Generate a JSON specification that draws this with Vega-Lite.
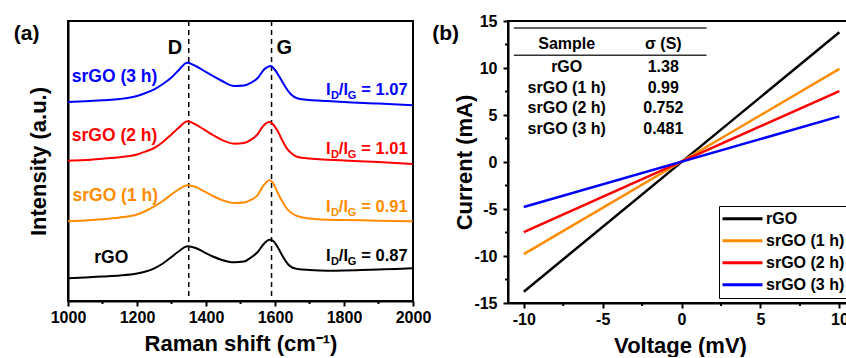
{
  "$schema": "https://vega.github.io/schema/vega-lite/v6.json",
  "padding": {"left": 12, "top": 12, "right": 0, "bottom": 0},
  "spacing": -1,
  "config": {
    "font": "Liberation Sans",
    "view": {"stroke": "black", "strokeWidth": 2},
    "axis": {"grid": false, "labelFlush": false, "domainColor": "black", "domainWidth": 2, "tickColor": "black", "tickWidth": 2, "tickSize": 5, "labelFont": "Liberation Sans", "labelFontWeight": "bold", "labelFontSize": 16, "labelColor": "black", "titleFont": "Liberation Sans", "titleFontWeight": "bold", "titleFontSize": 22, "titleColor": "black", "labelPadding": 3, "labelExpr": "'' + datum.value"}
  },
  "resolve": {"scale": {"color": "independent"}},
  "hconcat": [
    {
      "width": 345,
      "height": 280,
      "layer": [
        {
          "data": {"values": [{"x": 1350}, {"x": 1590}]},
          "mark": {"type": "rule", "strokeDash": [5, 4], "strokeWidth": 1.5, "color": "black"},
          "encoding": {
            "x": {"field": "x", "type": "quantitative", "scale": {"domain": [1000, 2000], "nice": false}, "axis": {"values": [1000, 1200, 1400, 1600, 1800, 2000], "title": "Raman shift (cm⁻¹)", "titlePadding": 8}}
          }
        },
        {
          "data": {"name": "raman", "values": [
            {"sample": "rGO", "x": 1000, "y": 22.7}, {"sample": "rGO", "x": 1050, "y": 23.5}, {"sample": "rGO", "x": 1100, "y": 24.5}, {"sample": "rGO", "x": 1150, "y": 25.5}, {"sample": "rGO", "x": 1200, "y": 27.5}, {"sample": "rGO", "x": 1225, "y": 29.5}, {"sample": "rGO", "x": 1250, "y": 32.7}, {"sample": "rGO", "x": 1275, "y": 37.5}, {"sample": "rGO", "x": 1299, "y": 43.7}, {"sample": "rGO", "x": 1320, "y": 49.5}, {"sample": "rGO", "x": 1347, "y": 54.7}, {"sample": "rGO", "x": 1370, "y": 53}, {"sample": "rGO", "x": 1395, "y": 48.7}, {"sample": "rGO", "x": 1420, "y": 44.5}, {"sample": "rGO", "x": 1444, "y": 41.3}, {"sample": "rGO", "x": 1482, "y": 38.7}, {"sample": "rGO", "x": 1510, "y": 39.5}, {"sample": "rGO", "x": 1531, "y": 43.7}, {"sample": "rGO", "x": 1550, "y": 49}, {"sample": "rGO", "x": 1565, "y": 56}, {"sample": "rGO", "x": 1584, "y": 61.3}, {"sample": "rGO", "x": 1595, "y": 60}, {"sample": "rGO", "x": 1608, "y": 53.7}, {"sample": "rGO", "x": 1622, "y": 45}, {"sample": "rGO", "x": 1637, "y": 37}, {"sample": "rGO", "x": 1650, "y": 33.5}, {"sample": "rGO", "x": 1666, "y": 32}, {"sample": "rGO", "x": 1700, "y": 31}, {"sample": "rGO", "x": 1753, "y": 30.3}, {"sample": "rGO", "x": 1800, "y": 30.5}, {"sample": "rGO", "x": 1850, "y": 31}, {"sample": "rGO", "x": 1900, "y": 31.5}, {"sample": "rGO", "x": 1950, "y": 32}, {"sample": "rGO", "x": 1999, "y": 32.7},
            {"sample": "srGO (1 h)", "x": 1000, "y": 79.7}, {"sample": "srGO (1 h)", "x": 1050, "y": 80.5}, {"sample": "srGO (1 h)", "x": 1100, "y": 81.7}, {"sample": "srGO (1 h)", "x": 1150, "y": 83.5}, {"sample": "srGO (1 h)", "x": 1200, "y": 86.5}, {"sample": "srGO (1 h)", "x": 1225, "y": 90}, {"sample": "srGO (1 h)", "x": 1250, "y": 94.7}, {"sample": "srGO (1 h)", "x": 1275, "y": 100}, {"sample": "srGO (1 h)", "x": 1299, "y": 106.3}, {"sample": "srGO (1 h)", "x": 1320, "y": 111.5}, {"sample": "srGO (1 h)", "x": 1347, "y": 115.7}, {"sample": "srGO (1 h)", "x": 1370, "y": 114}, {"sample": "srGO (1 h)", "x": 1395, "y": 109.7}, {"sample": "srGO (1 h)", "x": 1420, "y": 105}, {"sample": "srGO (1 h)", "x": 1444, "y": 101.3}, {"sample": "srGO (1 h)", "x": 1482, "y": 98}, {"sample": "srGO (1 h)", "x": 1510, "y": 98.5}, {"sample": "srGO (1 h)", "x": 1531, "y": 101.3}, {"sample": "srGO (1 h)", "x": 1550, "y": 106}, {"sample": "srGO (1 h)", "x": 1565, "y": 114.7}, {"sample": "srGO (1 h)", "x": 1584, "y": 120.7}, {"sample": "srGO (1 h)", "x": 1596, "y": 117}, {"sample": "srGO (1 h)", "x": 1608, "y": 108}, {"sample": "srGO (1 h)", "x": 1622, "y": 99}, {"sample": "srGO (1 h)", "x": 1637, "y": 91.3}, {"sample": "srGO (1 h)", "x": 1650, "y": 87.5}, {"sample": "srGO (1 h)", "x": 1666, "y": 84.7}, {"sample": "srGO (1 h)", "x": 1700, "y": 82.5}, {"sample": "srGO (1 h)", "x": 1753, "y": 81.3}, {"sample": "srGO (1 h)", "x": 1800, "y": 81}, {"sample": "srGO (1 h)", "x": 1900, "y": 80.3}, {"sample": "srGO (1 h)", "x": 1999, "y": 79.7},
            {"sample": "srGO (2 h)", "x": 1000, "y": 140.3}, {"sample": "srGO (2 h)", "x": 1050, "y": 141}, {"sample": "srGO (2 h)", "x": 1100, "y": 142.3}, {"sample": "srGO (2 h)", "x": 1150, "y": 143.8}, {"sample": "srGO (2 h)", "x": 1200, "y": 146.5}, {"sample": "srGO (2 h)", "x": 1225, "y": 149.5}, {"sample": "srGO (2 h)", "x": 1250, "y": 153}, {"sample": "srGO (2 h)", "x": 1275, "y": 159}, {"sample": "srGO (2 h)", "x": 1299, "y": 166.3}, {"sample": "srGO (2 h)", "x": 1320, "y": 173}, {"sample": "srGO (2 h)", "x": 1347, "y": 179.7}, {"sample": "srGO (2 h)", "x": 1370, "y": 176.5}, {"sample": "srGO (2 h)", "x": 1395, "y": 171.3}, {"sample": "srGO (2 h)", "x": 1420, "y": 166}, {"sample": "srGO (2 h)", "x": 1444, "y": 161.3}, {"sample": "srGO (2 h)", "x": 1482, "y": 157.3}, {"sample": "srGO (2 h)", "x": 1510, "y": 158}, {"sample": "srGO (2 h)", "x": 1531, "y": 161.3}, {"sample": "srGO (2 h)", "x": 1550, "y": 167}, {"sample": "srGO (2 h)", "x": 1565, "y": 174.7}, {"sample": "srGO (2 h)", "x": 1584, "y": 179}, {"sample": "srGO (2 h)", "x": 1596, "y": 176}, {"sample": "srGO (2 h)", "x": 1608, "y": 169.7}, {"sample": "srGO (2 h)", "x": 1622, "y": 160}, {"sample": "srGO (2 h)", "x": 1637, "y": 151.3}, {"sample": "srGO (2 h)", "x": 1650, "y": 147}, {"sample": "srGO (2 h)", "x": 1666, "y": 144}, {"sample": "srGO (2 h)", "x": 1700, "y": 142.5}, {"sample": "srGO (2 h)", "x": 1753, "y": 141.3}, {"sample": "srGO (2 h)", "x": 1800, "y": 140.5}, {"sample": "srGO (2 h)", "x": 1900, "y": 139}, {"sample": "srGO (2 h)", "x": 1999, "y": 137},
            {"sample": "srGO (3 h)", "x": 1000, "y": 199}, {"sample": "srGO (3 h)", "x": 1050, "y": 199.8}, {"sample": "srGO (3 h)", "x": 1100, "y": 200.8}, {"sample": "srGO (3 h)", "x": 1150, "y": 202}, {"sample": "srGO (3 h)", "x": 1200, "y": 205}, {"sample": "srGO (3 h)", "x": 1225, "y": 208}, {"sample": "srGO (3 h)", "x": 1250, "y": 211.7}, {"sample": "srGO (3 h)", "x": 1275, "y": 217}, {"sample": "srGO (3 h)", "x": 1299, "y": 223.3}, {"sample": "srGO (3 h)", "x": 1320, "y": 230.5}, {"sample": "srGO (3 h)", "x": 1345, "y": 238.3}, {"sample": "srGO (3 h)", "x": 1370, "y": 235}, {"sample": "srGO (3 h)", "x": 1395, "y": 230}, {"sample": "srGO (3 h)", "x": 1420, "y": 225}, {"sample": "srGO (3 h)", "x": 1444, "y": 220.5}, {"sample": "srGO (3 h)", "x": 1482, "y": 215}, {"sample": "srGO (3 h)", "x": 1510, "y": 215.5}, {"sample": "srGO (3 h)", "x": 1531, "y": 218.3}, {"sample": "srGO (3 h)", "x": 1550, "y": 223}, {"sample": "srGO (3 h)", "x": 1569, "y": 231.7}, {"sample": "srGO (3 h)", "x": 1588, "y": 235}, {"sample": "srGO (3 h)", "x": 1600, "y": 231}, {"sample": "srGO (3 h)", "x": 1617, "y": 221.7}, {"sample": "srGO (3 h)", "x": 1632, "y": 213}, {"sample": "srGO (3 h)", "x": 1646, "y": 206.7}, {"sample": "srGO (3 h)", "x": 1666, "y": 202.5}, {"sample": "srGO (3 h)", "x": 1700, "y": 201}, {"sample": "srGO (3 h)", "x": 1753, "y": 200}, {"sample": "srGO (3 h)", "x": 1800, "y": 199}, {"sample": "srGO (3 h)", "x": 1900, "y": 197.5}, {"sample": "srGO (3 h)", "x": 1999, "y": 195.7}
          ]},
          "mark": {"type": "line", "strokeWidth": 2, "interpolate": "monotone"},
          "encoding": {
            "x": {"field": "x", "type": "quantitative"},
            "y": {"field": "y", "type": "quantitative", "scale": {"domain": [0, 280], "nice": false}, "axis": {"title": "Intensity (a.u.)", "labels": false, "ticks": false, "titlePadding": 18}},
            "color": {"field": "sample", "type": "nominal", "scale": {"domain": ["rGO", "srGO (1 h)", "srGO (2 h)", "srGO (3 h)"], "range": ["#000000", "#FF8C00", "#FF0000", "#0000FF"]}, "legend": null}
          }
        },
        {
          "data": {"values": [{"x": 1100}, {"x": 1300}, {"x": 1500}, {"x": 1700}, {"x": 1900}]},
          "mark": {"type": "rule", "strokeWidth": 2, "color": "black"},
          "encoding": {"x": {"field": "x", "type": "quantitative"}, "y": {"datum": 0}, "y2": {"datum": -3}}
        },
        {
          "data": {"values": [
            {"sample": "srGO (3 h)", "x": 1011, "y": 219.3, "text": "srGO (3 h)"},
            {"sample": "srGO (2 h)", "x": 1011, "y": 160, "text": "srGO (2 h)"},
            {"sample": "srGO (1 h)", "x": 1013, "y": 100, "text": "srGO (1 h)"},
            {"sample": "rGO", "x": 1076, "y": 38.3, "text": "rGO"}
          ]},
          "mark": {"type": "text", "align": "left", "baseline": "alphabetic", "fontSize": 17.5, "fontWeight": "bold"},
          "encoding": {"x": {"field": "x", "type": "quantitative"}, "y": {"field": "y", "type": "quantitative"}, "text": {"field": "text"}, "color": {"field": "sample", "type": "nominal"}}
        },
        {
          "data": {"values": [
            {"sample": "srGO (3 h)", "x": 1748, "y": 206, "text": "I"}, {"sample": "srGO (3 h)", "x": 1785, "y": 206, "text": "/I"}, {"sample": "srGO (3 h)", "x": 1850, "y": 206, "text": "= 1.07"},
            {"sample": "srGO (2 h)", "x": 1748, "y": 146.7, "text": "I"}, {"sample": "srGO (2 h)", "x": 1785, "y": 146.7, "text": "/I"}, {"sample": "srGO (2 h)", "x": 1850, "y": 146.7, "text": "= 1.01"},
            {"sample": "srGO (1 h)", "x": 1748, "y": 89.3, "text": "I"}, {"sample": "srGO (1 h)", "x": 1785, "y": 89.3, "text": "/I"}, {"sample": "srGO (1 h)", "x": 1850, "y": 89.3, "text": "= 0.91"},
            {"sample": "rGO", "x": 1748, "y": 40, "text": "I"}, {"sample": "rGO", "x": 1785, "y": 40, "text": "/I"}, {"sample": "rGO", "x": 1850, "y": 40, "text": "= 0.87"}
          ]},
          "mark": {"type": "text", "align": "left", "baseline": "alphabetic", "fontSize": 16.5, "fontWeight": "bold"},
          "encoding": {"x": {"field": "x", "type": "quantitative"}, "y": {"field": "y", "type": "quantitative"}, "text": {"field": "text"}, "color": {"field": "sample", "type": "nominal"}}
        },
        {
          "data": {"values": [
            {"sample": "srGO (3 h)", "x": 1762, "y": 206, "text": "D"}, {"sample": "srGO (3 h)", "x": 1811, "y": 206, "text": "G"},
            {"sample": "srGO (2 h)", "x": 1762, "y": 146.7, "text": "D"}, {"sample": "srGO (2 h)", "x": 1811, "y": 146.7, "text": "G"},
            {"sample": "srGO (1 h)", "x": 1762, "y": 89.3, "text": "D"}, {"sample": "srGO (1 h)", "x": 1811, "y": 89.3, "text": "G"},
            {"sample": "rGO", "x": 1762, "y": 40, "text": "D"}, {"sample": "rGO", "x": 1811, "y": 40, "text": "G"}
          ]},
          "mark": {"type": "text", "align": "left", "baseline": "alphabetic", "fontSize": 11, "fontWeight": "bold", "dy": 4},
          "encoding": {"x": {"field": "x", "type": "quantitative"}, "y": {"field": "y", "type": "quantitative"}, "text": {"field": "text"}, "color": {"field": "sample", "type": "nominal"}}
        },
        {
          "data": {"values": [{"x": 1310, "y": 246.7, "text": "D"}, {"x": 1627, "y": 246.7, "text": "G"}]},
          "mark": {"type": "text", "align": "center", "baseline": "alphabetic", "fontSize": 20, "fontWeight": "bold", "color": "black"},
          "encoding": {"x": {"field": "x", "type": "quantitative"}, "y": {"field": "y", "type": "quantitative"}, "text": {"field": "text"}}
        },
        {
          "data": {"values": [{"x": 843, "y": 260.7, "text": "(a)"}]},
          "mark": {"type": "text", "align": "left", "baseline": "alphabetic", "fontSize": 21, "fontWeight": "bold", "color": "black"},
          "encoding": {"x": {"field": "x", "type": "quantitative"}, "y": {"field": "y", "type": "quantitative"}, "text": {"field": "text"}}
        }
      ]
    },
    {
      "width": 344,
      "height": 282,
      "layer": [
        {
          "data": {"values": [
            {"sample": "rGO", "v": -10, "i": -13.8}, {"sample": "rGO", "v": 10, "i": 13.8},
            {"sample": "srGO (1 h)", "v": -10, "i": -9.8}, {"sample": "srGO (1 h)", "v": 10, "i": 9.9},
            {"sample": "srGO (2 h)", "v": -10, "i": -7.45}, {"sample": "srGO (2 h)", "v": 10, "i": 7.55},
            {"sample": "srGO (3 h)", "v": -10, "i": -4.79}, {"sample": "srGO (3 h)", "v": 10, "i": 4.85}
          ]},
          "mark": {"type": "line", "strokeWidth": 2.5},
          "encoding": {
            "x": {"field": "v", "type": "quantitative", "scale": {"domain": [-11, 10.8], "nice": false}, "axis": {"values": [-10, -5, 0, 5, 10], "title": "Voltage (mV)", "titlePadding": 8}},
            "y": {"field": "i", "type": "quantitative", "scale": {"domain": [-15, 15], "nice": false}, "axis": {"values": [-15, -10, -5, 0, 5, 10, 15], "title": "Current (mA)", "titlePadding": -3, "labelPadding": 6}},
            "color": {"field": "sample", "type": "nominal", "scale": {"domain": ["rGO", "srGO (1 h)", "srGO (2 h)", "srGO (3 h)"], "range": ["#000000", "#FF8C00", "#FF0000", "#0000FF"]},
              "legend": {"orient": "bottom-right", "offset": 5, "title": null, "symbolType": "stroke", "symbolSize": 1600, "symbolStrokeWidth": 3, "clipHeight": 21.5, "labelFont": "Liberation Sans", "labelFontSize": 16, "labelFontWeight": "bold", "labelColor": "black", "labelOffset": 2, "strokeColor": "black", "fillColor": "white", "padding": 2, "rowPadding": 0}}
          }
        },
        {
          "data": {"values": [{"v": -7.5}, {"v": -2.5}, {"v": 2.5}, {"v": 7.5}]},
          "mark": {"type": "rule", "strokeWidth": 2, "color": "black"},
          "encoding": {"x": {"field": "v", "type": "quantitative"}, "y": {"datum": -15}, "y2": {"datum": -15.32}}
        },
        {
          "data": {"values": [{"i": -12.5}, {"i": -7.5}, {"i": -2.5}, {"i": 2.5}, {"i": 7.5}, {"i": 12.5}]},
          "mark": {"type": "rule", "strokeWidth": 2, "color": "black"},
          "encoding": {"y": {"field": "i", "type": "quantitative"}, "x": {"datum": -11}, "x2": {"datum": -11.19}}
        },
        {
          "data": {"values": [{"v": -10.63, "v2": 1.58, "i": 14.26}, {"v": -10.63, "v2": 1.58, "i": 11.35}]},
          "mark": {"type": "rule", "strokeWidth": 1.5, "color": "#333333"},
          "encoding": {"x": {"field": "v", "type": "quantitative"}, "x2": {"field": "v2"}, "y": {"field": "i", "type": "quantitative"}}
        },
        {
          "data": {"values": [
            {"v": -7.28, "i": 12.59, "text": "Sample"}, {"v": -1.16, "i": 12.59, "text": "σ (S)"},
            {"v": -7.28, "i": 10.14, "text": "rGO"}, {"v": -1.16, "i": 10.14, "text": "1.38"},
            {"v": -7.28, "i": 7.9, "text": "srGO (1 h)"}, {"v": -1.16, "i": 7.9, "text": "0.99"},
            {"v": -7.28, "i": 5.71, "text": "srGO (2 h)"}, {"v": -1.16, "i": 5.71, "text": "0.752"},
            {"v": -7.28, "i": 3.48, "text": "srGO (3 h)"}, {"v": -1.16, "i": 3.48, "text": "0.481"}
          ]},
          "mark": {"type": "text", "align": "center", "baseline": "middle", "fontSize": 16, "fontWeight": "bold", "color": "black"},
          "encoding": {"x": {"field": "v", "type": "quantitative"}, "y": {"field": "i", "type": "quantitative"}, "text": {"field": "text"}}
        },
        {
          "data": {"values": [{"v": -15.8, "i": 12.98, "text": "(b)"}]},
          "mark": {"type": "text", "align": "left", "baseline": "alphabetic", "fontSize": 21, "fontWeight": "bold", "color": "black"},
          "encoding": {"x": {"field": "v", "type": "quantitative"}, "y": {"field": "i", "type": "quantitative"}, "text": {"field": "text"}}
        }
      ]
    }
  ]
}
